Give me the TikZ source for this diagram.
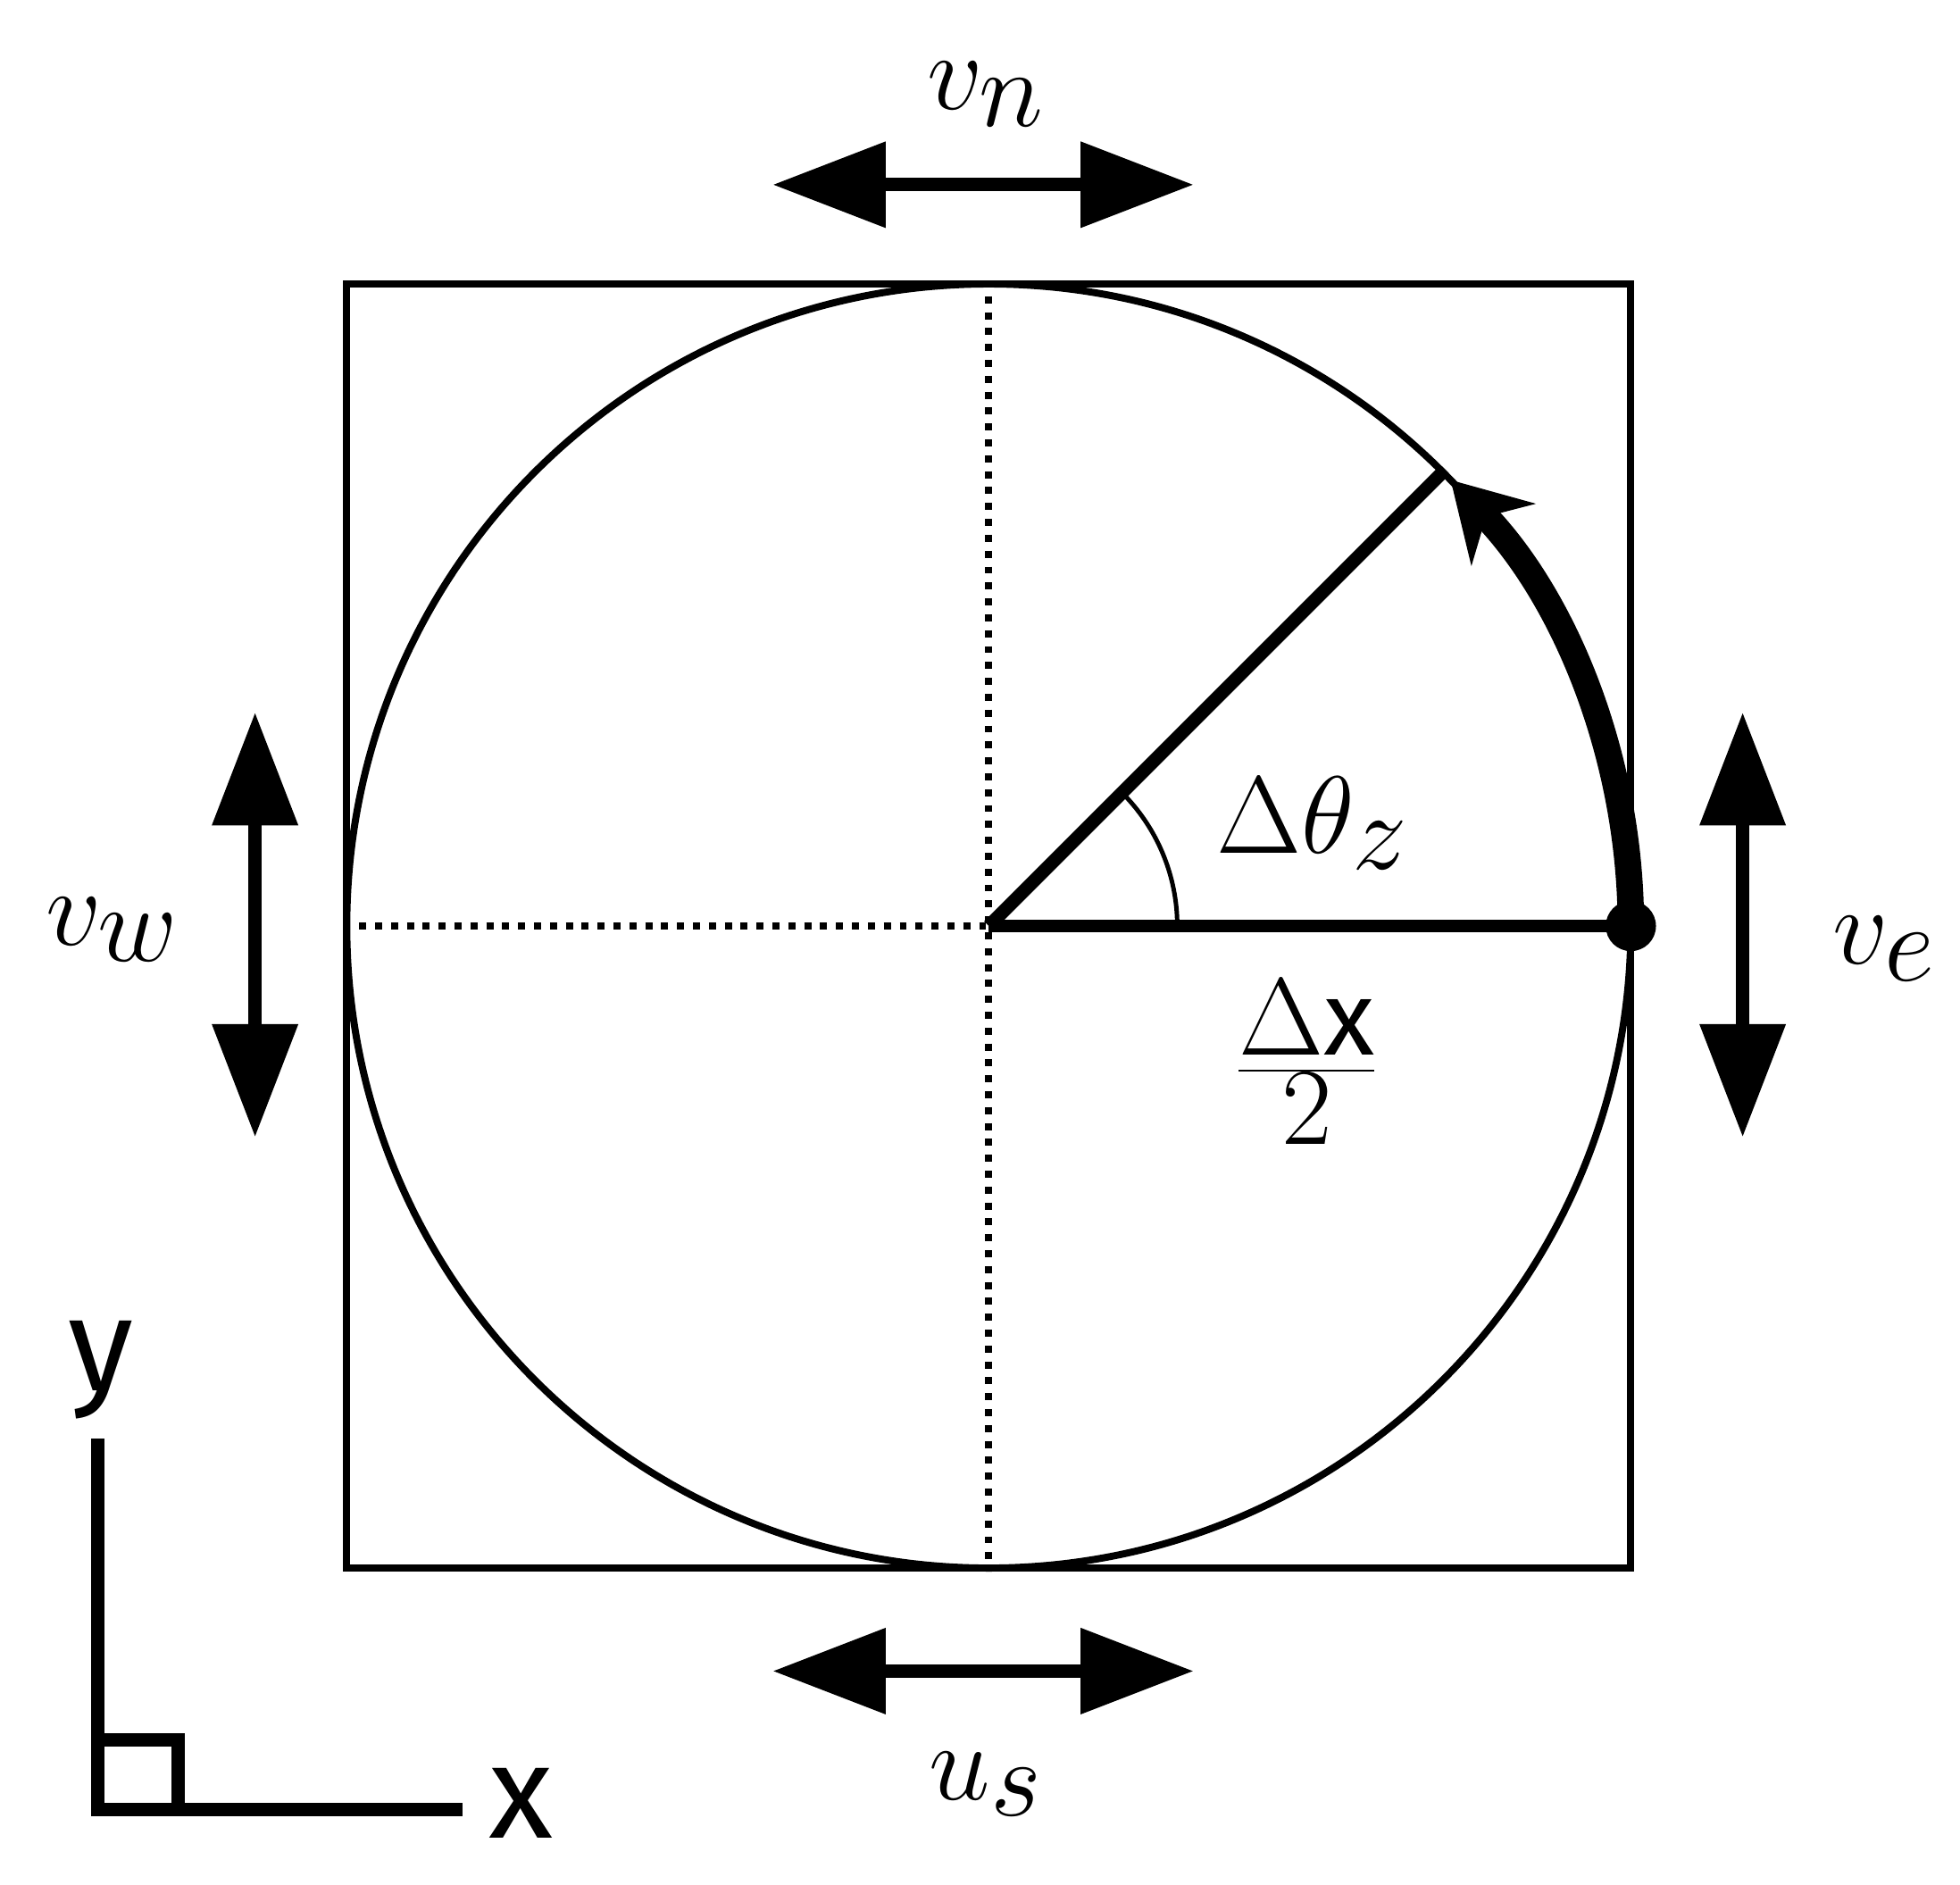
\documentclass[tikz,border=0pt]{standalone}
\usepackage{fontspec}
\setsansfont{Fira Sans}
\usetikzlibrary{arrows.meta,positioning,calc}

\begin{document}
\begin{tikzpicture}[
    thinline/.style={line width=1.6pt},
    dots/.style={line width=1.6pt, dotted},
    radius/.style={line width=3pt},
    flux/.style={{Triangle[length=0.9cm,width=0.66cm]}-{Triangle[length=0.9cm,width=0.66cm]}, line width=3pt},
    lbl/.style={font=\fontsize{34}{40}\selectfont},
    axlbl/.style={font=\sffamily\fontsize{30}{36}\selectfont}
]
\useasboundingbox (0,0) rectangle (15.6,-15.0);

% Cell and circle
\node[draw, thinline, minimum size=10.22cm, inner sep=0pt] (cell) at (7.87,-7.37) {};
\coordinate (c) at (7.87,-7.37);
\draw[thinline] (c) circle (5.11);

% Dotted axes of the cell
\draw[dots] (cell.north) -- (cell.south);
\draw[dots] (cell.west) -- (c);

% Radius, rotated radius and angle
\coordinate (e) at (12.98,-7.37);
\coordinate (r) at ($(c)+(45:5.11)$);
\draw[radius] (c) -- (e);
\fill (e) circle (0.2);
\draw[radius] (c) -- (r);
\draw[line width=1pt] ($(c)+(1.5,0)$) arc (0:45:1.5);
\draw[line width=6pt, -{Stealth[length=0.6cm,width=0.7cm]}] (e) arc (0:44:5.11);

% Labels
\node[lbl] (dtheta) at (10.45,-6.55) {$\Delta\theta_z$};
\node[lbl] (dx) at (10.4,-8.45) {$\frac{\Delta\mathsf{x}}{2}$};

% Fluxes on the faces
\node[lbl] (vn) at (7.85,-0.75) {$v_n$};
\coordinate (nl) at (6.15,-1.47);
\coordinate (nr) at (9.5,-1.47);
\draw[flux] (nl) -- (nr);
\node[lbl] (us) at (7.85,-14.2) {$u_s$};
\coordinate (sl) at (6.15,-13.3);
\coordinate (sr) at (9.5,-13.3);
\draw[flux] (sl) -- (sr);
\node[lbl] (vw) at (0.9,-7.4) {$v_w$};
\coordinate (wt) at (2.03,-5.67);
\coordinate (wb) at (2.03,-9.05);
\draw[flux] (wt) -- (wb);
\node[lbl] (ve) at (15.0,-7.55) {$v_e$};
\coordinate (et) at (13.87,-5.67);
\coordinate (eb) at (13.87,-9.05);
\draw[flux] (et) -- (eb);

% Coordinate axes
\coordinate (o) at (0.78,-14.4);
\coordinate (ya) at (0.78,-11.45);
\coordinate (xa) at (3.68,-14.4);
\draw[radius] (ya) -- (o) -- (xa);
\draw[radius] (0.78,-13.85) -| (1.42,-14.4);
\node[axlbl] (ylbl) at (0.8,-10.9) {y};
\node[axlbl] (xlbl) at (4.15,-14.35) {x};

\end{tikzpicture}
\end{document}
